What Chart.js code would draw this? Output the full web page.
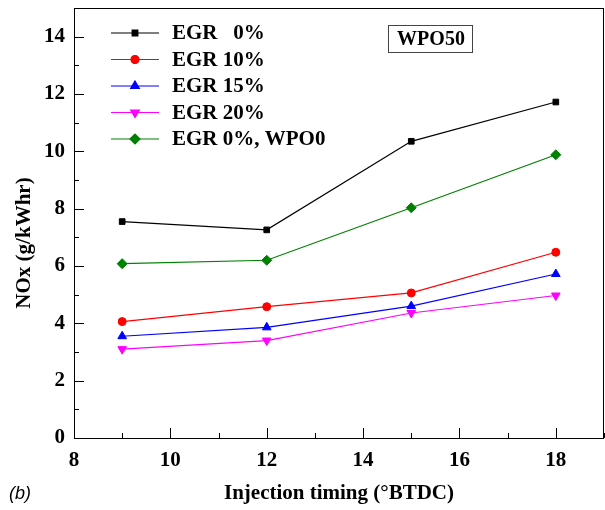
<!DOCTYPE html>
<html>
<head>
<meta charset="utf-8">
<script src="https://cdn.jsdelivr.net/npm/chart.js@4/dist/chart.umd.min.js"></script>
<style>
  html, body { margin: 0; padding: 0; background: #fff; }
  #wrap { width: 605px; height: 510px; }
</style>
</head>
<body>
<div id="wrap"><canvas id="chart" width="605" height="510"></canvas></div>
<script>
const timing = [9, 12, 15, 18];
const egr0 = [7.55, 7.26, 10.35, 11.72];
const egr10 = [4.06, 4.58, 5.06, 6.48];
const egr15 = [3.55, 3.86, 4.6, 5.72];
const egr20 = [3.1, 3.4, 4.36, 4.97];
const egr0Wpo0 = [6.08, 6.2, 8.03, 9.88];

const seriesLabels = ['EGR   0%', 'EGR 10%', 'EGR 15%', 'EGR 20%', 'EGR 0%, WPO0'];
const xTicks = [8, 10, 12, 14, 16, 18];
const yTicks = [0, 2, 4, 6, 8, 10, 12, 14];

const serif = '"Liberation Serif", "Times New Roman", serif';

function pts(values) {
  return values.map((v, i) => ({ x: timing[i], y: v }));
}

const styles = [
  { color: '#000000', point: 'rect', radius: 4, rot: 0 },
  { color: '#ff0000', point: 'circle', radius: 4, rot: 0 },
  { color: '#0000ff', point: 'triangle', radius: 5, rot: 0 },
  { color: '#ff00ff', point: 'triangle', radius: 5, rot: 180 },
  { color: '#008000', point: 'rectRot', radius: 5, rot: 0 }
];

const allValues = [egr0, egr10, egr15, egr20, egr0Wpo0];

const datasets = allValues.map((vals, i) => ({
  label: seriesLabels[i],
  data: pts(vals),
  borderColor: styles[i].color,
  backgroundColor: styles[i].color,
  borderWidth: 1.2,
  pointStyle: styles[i].point,
  pointRadius: styles[i].radius,
  pointRotation: styles[i].rot,
  pointBorderWidth: 1,
  pointBorderColor: styles[i].color,
  tension: 0
}));

// inside tick marks, frame, legend and labels
const decorations = {
  id: 'decorations',
  afterDraw(chart) {
    const ctx = chart.ctx;
    const a = chart.chartArea;
    const xs = chart.scales.x;
    const ys = chart.scales.y;
    ctx.save();
    ctx.strokeStyle = '#000';
    ctx.lineWidth = 1;
    ctx.strokeRect(a.left + 0.5, a.top + 0.5, a.right - a.left - 1, a.bottom - a.top);

    ctx.beginPath();
    for (let v = 8; v <= 19; v++) {
      const px = Math.round(xs.getPixelForValue(v)) + 0.5;
      const len = v % 2 === 0 ? 10 : 5;
      ctx.moveTo(px, a.bottom);
      ctx.lineTo(px, a.bottom - len);
    }
    for (let v = 0; v <= 15; v++) {
      const py = Math.round(ys.getPixelForValue(v)) + 0.5;
      const len = v % 2 === 0 ? 10 : 5;
      ctx.moveTo(a.left, py);
      ctx.lineTo(a.left + len, py);
    }
    ctx.stroke();

    // y axis title
    ctx.save();
    ctx.translate(25, 243);
    ctx.rotate(-Math.PI / 2);
    ctx.font = 'bold 21px ' + serif;
    ctx.textAlign = 'center';
    ctx.textBaseline = 'middle';
    ctx.fillStyle = '#000';
    ctx.fillText('NOx (g/kWhr)', 0, 0);
    ctx.restore();

    // legend
    ctx.font = 'bold 21px ' + serif;
    ctx.textBaseline = 'middle';
    ctx.textAlign = 'left';
    chart.data.datasets.forEach((ds, i) => {
      const y = 33 + i * 26.5;
      ctx.strokeStyle = ds.borderColor;
      ctx.lineWidth = 1.2;
      ctx.beginPath();
      ctx.moveTo(111, y);
      ctx.lineTo(159, y);
      ctx.stroke();
      Chart.helpers.drawPoint(ctx, {
        pointStyle: ds.pointStyle,
        radius: ds.pointRadius,
        rotation: ds.pointRotation,
        borderWidth: 1
      }, 135, y);
      ctx.fillStyle = ds.borderColor;
      ctx.strokeStyle = ds.borderColor;
      ctx.fill();
      ctx.fillStyle = '#000';
      ctx.fillText(ds.label.replace(/ /g, '\u00a0'), 172, y + 1);
    });

    // WPO50 box
    ctx.strokeStyle = '#444';
    ctx.lineWidth = 1;
    ctx.strokeRect(388.5, 25.5, 84, 27);
    ctx.fillStyle = '#000';
    ctx.textAlign = 'center';
    ctx.font = 'bold 20px ' + serif;
    ctx.fillText('WPO50', 431, 39.5);

    // panel tag
    ctx.font = 'italic 18px "Liberation Sans", Arial, sans-serif';
    ctx.textAlign = 'left';
    ctx.fillText('(b)', 9, 494);
    ctx.restore();
  }
};

new Chart(document.getElementById('chart'), {
  type: 'line',
  data: { datasets },
  options: {
    responsive: false,
    animation: false,
    layout: { autoPadding: false, padding: { top: 8, right: 1, left: 0, bottom: 0 } },
    plugins: {
      legend: { display: false },
      tooltip: { enabled: false }
    },
    scales: {
      x: {
        type: 'linear',
        min: 8,
        max: 19,
        afterBuildTicks(scale) {
          scale.ticks = xTicks.map(v => ({ value: v }));
        },
        afterFit(scale) {
          scale.height = 72;
          scale.paddingLeft = 0;
          scale.paddingRight = 0;
        },
        grid: { display: false, drawTicks: false },
        border: { display: false },
        ticks: {
          color: '#000',
          padding: 10,
          maxRotation: 0,
          font: { family: serif, size: 21, weight: 'bold' }
        },
        title: {
          display: true,
          text: 'Injection timing (°BTDC)',
          color: '#000',
          padding: { top: 10 },
          font: { family: serif, size: 21, weight: 'bold' }
        }
      },
      y: {
        min: 0,
        max: 15,
        afterBuildTicks(scale) {
          scale.ticks = yTicks.map(v => ({ value: v }));
        },
        afterFit(scale) {
          scale.width = 74;
          scale.paddingTop = 0;
          scale.paddingBottom = 0;
        },
        grid: { display: false, drawTicks: false },
        border: { display: false },
        ticks: {
          color: '#000',
          padding: 9,
          font: { family: serif, size: 21, weight: 'bold' }
        },
        title: { display: false }
      }
    }
  },
  plugins: [decorations]
});
</script>
</body>
</html>
